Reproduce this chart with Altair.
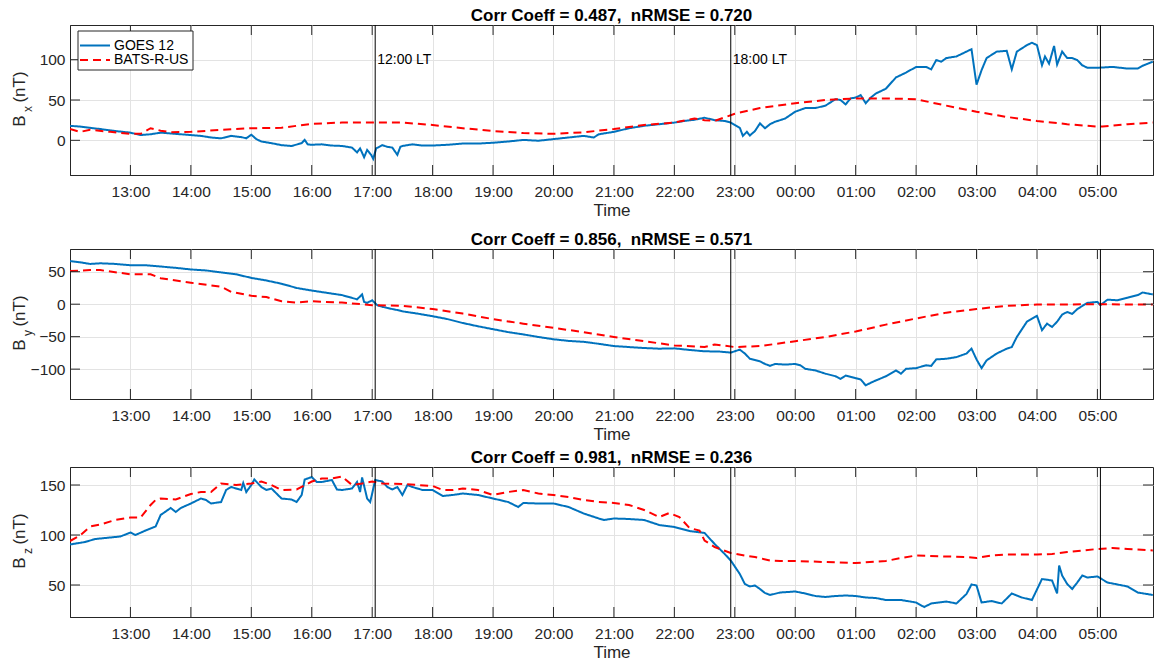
import altair as alt
import pandas as pd

FONT = "Liberation Sans"
INK = "#262626"
GRID = "#e3e3e3"
W, H = 1083, 150
TICK = 10

SERIES = ["GOES 12", "BATS-R-US"]
COLORS = ["#0072BD", "#FF0000"]
DASHES = [[1, 0], [8, 5]]

HOUR_TICKS = list(range(1, 18))          # 13:00 ... 05:00
X_DOMAIN = [0, 17.92]                   # 12:00 ... 05:55
LT_TIMES = ["17:03", "22:56", "05:03"]
LT_LABELS = ["12:00 LT", "18:00 LT"]

# ---- Bx ----
bx_goes_t = ["12:00", "12:10", "12:20", "12:30", "12:45", "13:00", "13:10", "13:20", "13:30", "13:40",
             "13:50", "14:00", "14:10", "14:20", "14:30", "14:40", "14:50", "14:55", "15:00", "15:05",
             "15:10", "15:20", "15:30", "15:40", "15:50", "15:53", "15:56", "16:00", "16:10", "16:20",
             "16:30", "16:40", "16:45", "16:48", "16:52", "16:55", "16:59", "17:01", "17:04", "17:10",
             "17:15", "17:20", "17:25", "17:28", "17:30", "17:40", "17:50", "18:00", "18:15", "18:30",
             "18:45", "19:00", "19:15", "19:30", "19:45", "20:00", "20:15", "20:30", "20:40", "20:45",
             "21:00", "21:15", "21:30", "21:45", "22:00", "22:10", "22:20", "22:30", "22:40", "22:50",
             "22:56", "23:05", "23:08", "23:12", "23:15", "23:20", "23:25", "23:30", "23:35", "23:40",
             "23:50", "00:00", "00:10", "00:20", "00:30", "00:40", "00:45", "00:50", "00:55", "01:00",
             "01:05", "01:10", "01:15", "01:20", "01:30", "01:40", "01:50", "02:00", "02:10", "02:15",
             "02:20", "02:25", "02:30", "02:40", "02:50", "02:55", "03:00", "03:05", "03:10", "03:20",
             "03:30", "03:35", "03:40", "03:45", "03:50", "03:55", "04:00", "04:05", "04:08", "04:12",
             "04:17", "04:20", "04:25", "04:30", "04:35", "04:40", "04:45", "04:50", "05:00", "05:15",
             "05:30", "05:40", "05:45", "05:55"]
bx_goes_v = [18, 17, 15.5, 14, 11.5, 9.5, 6.5, 7.5, 9.5, 8.5,
             7.5, 6.5, 5.5, 3.5, 2.5, 5.5, 4, 2.5, 7, 1.5,
             -1.5, -3.5, -6, -7, -3.5, 0.5, -5, -5.5, -5, -6.5,
             -7, -9, -15, -10, -21, -12, -18, -23, -10, -6,
             -8, -9, -18, -8, -7, -5, -6.5, -6.5, -5.5, -4,
             -4, -3, -1.5, 0.5, -0.5, 1.5, 3.5, 5.5, 3.5, 7.5,
             10.5, 15, 18, 20, 22, 24, 25.5, 28, 25, 24,
             22, 15.5, 5.5, 10.5, 6, 11.5, 21, 15, 20, 23,
             27, 35.5, 40, 40, 43, 51, 50, 44.5, 52, 53,
             56, 46, 53, 58, 64, 78, 84, 91, 91, 88,
             99.5, 97.5, 102, 104, 110, 113, 69, 87, 102, 110,
             111, 88, 110, 114, 118, 121, 118, 93, 104, 95,
             117, 94, 110, 102, 102, 99.5, 93, 90, 90, 91,
             89, 89, 92.5, 97.5]
bx_bats_t = ["12:00", "12:10", "12:20", "12:40", "13:00", "13:10", "13:20", "13:30", "13:40", "14:00",
             "14:30", "15:00", "15:30", "15:45", "16:00", "16:30", "17:00", "17:30", "18:00", "18:30",
             "19:00", "19:30", "20:00", "20:30", "21:00", "21:30", "22:00", "22:20", "22:30", "22:40",
             "23:00", "23:25", "00:00", "00:30", "01:00", "01:30", "02:00", "02:30", "03:00", "03:30",
             "04:00", "04:30", "05:00", "05:05", "05:30", "05:55"]
bx_bats_v = [14, 10.5, 13, 10.5, 8, 8, 15, 12, 10, 10.5,
             13, 15, 15.5, 18, 20.5, 22, 22, 22, 19, 15,
             11.5, 9, 8, 10, 14, 19, 22, 27, 25, 24,
             33, 40, 46, 50, 52, 52, 51, 43, 35.5, 29,
             24, 20, 17, 17, 20, 22]

# ---- By ----
by_goes_t = ["12:00", "12:10", "12:20", "12:30", "12:45", "13:00", "13:15", "13:30", "13:45", "14:00",
             "14:15", "14:30", "14:45", "15:00", "15:15", "15:30", "15:45", "16:00", "16:15", "16:30",
             "16:45", "16:50", "16:52", "16:55", "17:00", "17:05", "17:10", "17:20", "17:25", "17:30",
             "17:45", "18:00", "18:15", "18:30", "18:45", "19:00", "19:15", "19:30", "19:45", "20:00",
             "20:15", "20:30", "20:45", "21:00", "21:15", "21:30", "21:45", "22:00", "22:15", "22:30",
             "22:45", "22:56", "23:05", "23:10", "23:15", "23:25", "23:30", "23:35", "23:40", "23:50",
             "00:00", "00:05", "00:10", "00:20", "00:30", "00:40", "00:45", "00:50", "01:00", "01:05",
             "01:10", "01:15", "01:20", "01:30", "01:40", "01:45", "01:50", "02:00", "02:10", "02:15",
             "02:20", "02:30", "02:40", "02:50", "02:55", "03:00", "03:05", "03:10", "03:20", "03:30",
             "03:35", "03:40", "03:50", "04:00", "04:05", "04:10", "04:15", "04:20", "04:25", "04:30",
             "04:35", "04:40", "04:50", "05:00", "05:03", "05:10", "05:20", "05:30", "05:40", "05:45",
             "05:55"]
by_goes_v = [66.5, 64.5, 62, 63, 62, 60, 60, 58, 56, 53.5,
             52, 49, 46, 40.5, 36.5, 31.5, 25, 21, 17.5, 14,
             7.5, 15, 3.5, 2, 6, -1.5, -4, -7.5, -9, -11,
             -14.5, -18.5, -23, -29, -34, -38.5, -43, -46.5, -50.5, -54,
             -56.5, -58, -61, -64.5, -66, -67.5, -68.5, -68, -70.5, -72.5,
             -73, -74.5, -70, -76, -84, -88, -92, -95, -92, -93,
             -92, -94, -99.5, -102, -107, -111, -115, -110, -114, -116,
             -125, -121, -117.5, -111, -102, -107, -99.5, -98.5, -94, -95,
             -85, -84, -81.5, -76, -68.5, -85, -98.5, -86.5, -76, -68.5,
             -66, -50.5, -27, -18, -40, -30, -35, -27, -16, -12,
             -15, -7.5, 2, 3.5, -1.5, 7, 6, 10, 14, 18,
             15]
by_bats_t = ["12:00", "12:20", "12:30", "13:00", "13:20", "13:30", "14:00", "14:30", "14:40", "15:00",
             "15:15", "15:30", "15:45", "16:00", "16:30", "17:00", "17:30", "18:00", "18:30", "19:00",
             "19:30", "20:00", "20:30", "21:00", "21:30", "22:00", "22:30", "22:40", "23:00", "23:25",
             "00:00", "00:30", "01:00", "01:30", "02:00", "02:30", "03:00", "03:30", "04:00", "04:30",
             "05:00", "05:30", "05:55"]
by_bats_v = [51, 52.5, 52.5, 46, 46, 40, 33, 27, 19, 13,
             11, 4.5, 2.5, 4.5, 2.5, -1.5, -2.5, -7.5, -14.5, -23,
             -30, -36.5, -43, -50.5, -57, -63.5, -66, -62, -66, -64.5,
             -57, -50.5, -42, -31.5, -22, -13, -7.5, -2.5, -0.5, -0.5,
             0, -0.5, -0.5]

# ---- Bz ----
bz_goes_t = ["12:00", "12:15", "12:25", "12:40", "12:50", "13:00", "13:05", "13:15", "13:25", "13:30",
             "13:40", "13:45", "13:50", "14:00", "14:10", "14:15", "14:20", "14:30", "14:35", "14:40",
             "14:50", "14:52", "14:55", "15:00", "15:03", "15:10", "15:15", "15:20", "15:30", "15:40",
             "15:45", "15:50", "15:53", "16:00", "16:05", "16:10", "16:20", "16:25", "16:30", "16:40",
             "16:45", "16:48", "16:50", "16:55", "16:58", "17:00", "17:03", "17:10", "17:15", "17:20",
             "17:25", "17:30", "17:35", "17:40", "17:50", "18:00", "18:10", "18:20", "18:30", "18:45",
             "19:00", "19:15", "19:25", "19:30", "19:45", "20:00", "20:15", "20:30", "20:45", "20:50",
             "21:00", "21:15", "21:30", "21:45", "22:00", "22:15", "22:30", "22:40", "22:50", "22:56",
             "23:05", "23:10", "23:15", "23:20", "23:25", "23:30", "23:35", "23:45", "00:00", "00:10",
             "00:20", "00:30", "00:40", "00:50", "01:00", "01:10", "01:20", "01:30", "01:45", "02:00",
             "02:08", "02:15", "02:30", "02:40", "02:50", "02:55", "03:00", "03:05", "03:15", "03:25",
             "03:35", "03:45", "03:55", "04:05", "04:15", "04:20", "04:22", "04:25", "04:30", "04:35",
             "04:40", "04:45", "04:50", "05:00", "05:10", "05:20", "05:30", "05:40", "05:55"]
bz_goes_v = [90.5, 93, 96, 97.5, 98.5, 102.5, 100, 104.5, 108.5, 120,
             127, 123, 127, 131.5, 136.5, 135, 131.5, 133, 145, 148,
             145, 152, 143, 150, 155.5, 148, 145, 146.5, 136.5, 135.5,
             133, 140, 155.5, 158, 153, 153, 155, 145.5, 145, 146.5,
             153, 143, 157.5, 136.5, 133, 141.5, 155, 153.5, 148, 145.5,
             148, 140, 150, 148, 145, 145, 139, 140, 141.5, 140,
             136.5, 133, 128, 132, 131.5, 131.5, 128, 121.5, 116.5, 115,
             116.5, 116, 115, 110, 108, 104, 102, 91, 81, 74.5,
             61, 51, 48.5, 49.5, 46, 42, 40, 42.5, 43.5, 41.5,
             39, 38, 39, 39.5, 39, 37.5, 37, 35, 35, 32.5,
             28, 31.5, 33.5, 31.5, 41, 50.5, 49.5, 32.5, 34, 31.5,
             41.5, 37.5, 35, 56, 54.5, 41.5, 69.5, 59.5, 51, 46,
             52.5, 59.5, 57.5, 58.5, 52.5, 50.5, 48.5, 42.5, 40]
bz_bats_t = ["12:00", "12:10", "12:20", "12:30", "12:45", "13:00", "13:10", "13:20", "13:25", "13:30",
             "13:45", "14:00", "14:10", "14:20", "14:30", "14:45", "15:00", "15:10", "15:20", "15:30",
             "15:45", "16:00", "16:10", "16:20", "16:30", "16:40", "16:50", "17:00", "17:10", "17:30",
             "17:45", "18:00", "18:10", "18:20", "18:30", "18:45", "19:00", "19:15", "19:30", "19:45",
             "20:00", "20:15", "20:30", "20:45", "21:00", "21:15", "21:30", "21:45", "21:55", "22:05",
             "22:15", "22:25", "22:30", "22:40", "22:56", "23:10", "23:20", "23:35", "23:45", "00:00",
             "00:30", "01:00", "01:30", "01:45", "02:00", "02:30", "02:50", "03:00", "03:15", "03:30",
             "04:00", "04:15", "04:30", "04:45", "05:00", "05:15", "05:30", "05:55"]
bz_bats_v = [94, 99.5, 108.5, 110.5, 115, 117.5, 117.5, 130, 135, 136.5,
             135.5, 141, 143, 143, 151.5, 150, 151.5, 153.5, 150, 145,
             145.5, 153.5, 156.5, 156.5, 158.5, 150, 151.5, 153.5, 151.5, 151,
             150, 149, 145, 145, 146.5, 145, 140, 143, 145, 141.5,
             140, 138, 135, 133, 132, 130, 125, 118, 122, 118,
             107, 104.5, 94.5, 88, 82, 79.5, 78, 74.5, 74, 74,
             73, 72, 74, 77, 79.5, 78.5, 78, 77, 79.5, 80.5,
             80.5, 81, 83, 84.5, 86, 87, 86, 84.5]


def to_hours(t):
    """Hours elapsed since 12:00, continuing past midnight."""
    hh, mm = t.split(":")
    return (int(hh) - 12 + int(mm) / 60) % 24


HOUR_LABEL = ("(((datum.value + 12) % 24) < 10 ? '0' : '') + "
              "((datum.value + 12) % 24) + ':00'")


def panel(goes_t, goes_v, bats_t, bats_v, ydomain, yticks, sub, title, with_legend=False):
    rows = [{"h": to_hours(t), "v": v, "series": SERIES[0]} for t, v in zip(goes_t, goes_v)]
    rows += [{"h": to_hours(t), "v": v, "series": SERIES[1]} for t, v in zip(bats_t, bats_v)]
    df = pd.DataFrame(rows)

    xscale = alt.Scale(domain=X_DOMAIN, nice=False, zero=False)
    yscale = alt.Scale(domain=ydomain, nice=False, zero=False)
    xaxis = alt.Axis(values=HOUR_TICKS, labelExpr=HOUR_LABEL, title="Time", grid=True,
                     ticks=False, tickSize=0, labelPadding=9, labelFlush=False,
                     labelOverlap=False, titlePadding=3)
    yaxis = alt.Axis(values=yticks, title="", grid=True, ticks=False, tickSize=0,
                     labelPadding=5)

    color = alt.Color("series:N", scale=alt.Scale(domain=SERIES, range=COLORS), legend=None)
    dash = alt.StrokeDash("series:N", scale=alt.Scale(domain=SERIES, range=DASHES), legend=None)

    X = lambda: alt.X("h:Q", scale=xscale, axis=xaxis)
    Y = lambda: alt.Y("v:Q", scale=yscale, axis=yaxis)

    def trace(name):
        return alt.Chart(df).transform_filter(alt.datum.series == name).mark_line(
            strokeWidth=2, clip=True
        ).encode(x=X(), y=Y(), color=color, strokeDash=dash)

    layers = [trace(SERIES[0]), trace(SERIES[1])]

    lt = pd.DataFrame({"h": [to_hours(t) for t in LT_TIMES]})
    layers.append(alt.Chart(lt).mark_rule(color="black", strokeWidth=1).encode(x=X()))

    # inward tick marks on all four sides
    xt = pd.DataFrame({"h": HOUR_TICKS})
    yt = pd.DataFrame({"v": yticks})
    layers += [
        alt.Chart(xt).mark_rule(color=INK, strokeWidth=1).encode(
            x=X(), y=alt.value(H - TICK), y2=alt.value(H)),
        alt.Chart(xt).mark_rule(color=INK, strokeWidth=1).encode(
            x=X(), y=alt.value(0), y2=alt.value(TICK)),
        alt.Chart(yt).mark_rule(color=INK, strokeWidth=1).encode(
            y=Y(), x=alt.value(0), x2=alt.value(TICK)),
        alt.Chart(yt).mark_rule(color=INK, strokeWidth=1).encode(
            y=Y(), x=alt.value(W - TICK), x2=alt.value(W)),
    ]

    # y-axis title: B with subscript component, then unit
    one = alt.Chart(pd.DataFrame({"k": [0]}))
    layers += [
        one.mark_text(text="B", angle=270, fontSize=17, font=FONT, color=INK,
                      align="center", baseline="middle").encode(
            x=alt.value(-50), y=alt.value(96)),
        one.mark_text(text=sub, angle=270, fontSize=12, font=FONT, color=INK,
                      align="center", baseline="middle").encode(
            x=alt.value(-42), y=alt.value(84)),
        one.mark_text(text="(nT)", angle=270, fontSize=17, font=FONT, color=INK,
                      align="center", baseline="middle").encode(
            x=alt.value(-50), y=alt.value(62)),
    ]

    if with_legend:
        ann = pd.DataFrame({"h": [to_hours(t) for t in LT_TIMES[:2]], "v": [100, 100],
                            "label": LT_LABELS})
        layers.append(alt.Chart(ann).mark_text(
            align="left", baseline="middle", dx=2, fontSize=14, font=FONT, color="black"
        ).encode(x=X(), y=Y(), text="label:N"))

        layers += [
            one.mark_rect(fill="white", stroke=INK, strokeWidth=1).encode(
                x=alt.value(8), x2=alt.value(123), y=alt.value(6), y2=alt.value(45)),
            one.mark_rule(color=COLORS[0], strokeWidth=2).encode(
                x=alt.value(10), x2=alt.value(40), y=alt.value(20.5)),
            one.mark_rule(color=COLORS[1], strokeWidth=2, strokeDash=DASHES[1]).encode(
                x=alt.value(10), x2=alt.value(40), y=alt.value(35)),
            one.mark_text(text=SERIES[0], align="left", baseline="middle", fontSize=14,
                          font=FONT, color="black").encode(x=alt.value(44), y=alt.value(20.5)),
            one.mark_text(text=SERIES[1], align="left", baseline="middle", fontSize=14,
                          font=FONT, color="black").encode(x=alt.value(44), y=alt.value(35)),
        ]

    return alt.layer(*layers).properties(
        width=W, height=H,
        title=alt.TitleParams(title, fontSize=17, fontWeight="bold", font=FONT,
                              color="black", anchor="middle", offset=0),
    )


# the gap after each comma is a double space, kept with a no-break space
p1 = panel(bx_goes_t, bx_goes_v, bx_bats_t, bx_bats_v, [-43, 143], [0, 50, 100], "x",
           "Corr Coeff = 0.487,\u00a0 nRMSE = 0.720", with_legend=True)
p2 = panel(by_goes_t, by_goes_v, by_bats_t, by_bats_v, [-146, 85], [-100, -50, 0, 50], "y",
           "Corr Coeff = 0.856,\u00a0 nRMSE = 0.571")
p3 = panel(bz_goes_t, bz_goes_v, bz_bats_t, bz_bats_v, [18, 168], [50, 100, 150], "z",
           "Corr Coeff = 0.981,\u00a0 nRMSE = 0.236")

independent = dict(x="independent", y="independent", color="independent",
                   strokeDash="independent")
upper = alt.vconcat(p1, p2, spacing=11).resolve_scale(**independent)

chart = alt.vconcat(upper, p3, spacing=5).resolve_scale(**independent).properties(
    padding={"left": 10, "top": 6, "right": 0, "bottom": 0},
    background="white",
).configure_view(
    stroke=INK, strokeWidth=1
).configure_axis(
    labelFont=FONT, labelFontSize=15.5, labelColor=INK,
    titleFont=FONT, titleFontSize=17, titleFontWeight="normal", titleColor=INK,
    gridColor=GRID, gridWidth=1, domainColor=INK, domainWidth=1,
)

chart.save("out.html", embed_options={"renderer": "svg", "actions": False})
